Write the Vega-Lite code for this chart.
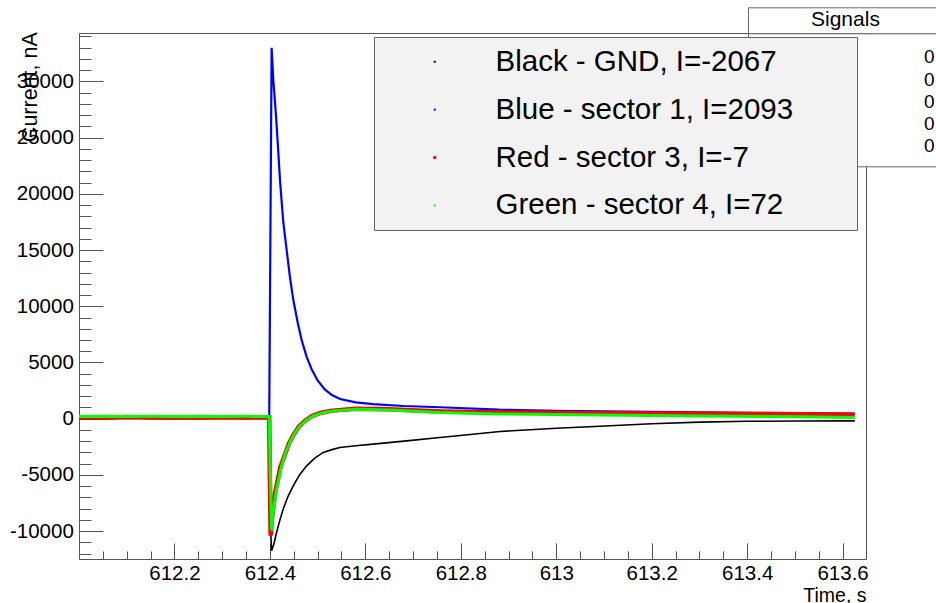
{
  "$schema": "https://vega.github.io/schema/vega-lite/v6.json",
  "width": 787,
  "height": 526,
  "autosize": {"type": "none"},
  "padding": {"left": 79, "top": 33, "right": 70, "bottom": 44},
  "background": "#ffffff",
  "config": {"font": "Liberation Sans", "view": {"stroke": "#555555", "strokeWidth": 1}},
  "title": {"text": "Signals", "fontSize": 25, "fontWeight": "normal", "anchor": "middle", "baseline": "alphabetic", "offset": 31, "color": "#000000"},
  "datasets": {
    "signals": [
      {"trace": "Black - GND, I=-2067", "t": 612.000, "v": 30},
      {"trace": "Black - GND, I=-2067", "t": 612.050, "v": -20},
      {"trace": "Black - GND, I=-2067", "t": 612.100, "v": 40},
      {"trace": "Black - GND, I=-2067", "t": 612.150, "v": 0},
      {"trace": "Black - GND, I=-2067", "t": 612.200, "v": 30},
      {"trace": "Black - GND, I=-2067", "t": 612.250, "v": -10},
      {"trace": "Black - GND, I=-2067", "t": 612.300, "v": 40},
      {"trace": "Black - GND, I=-2067", "t": 612.350, "v": 10},
      {"trace": "Black - GND, I=-2067", "t": 612.3986, "v": 30},
      {"trace": "Black - GND, I=-2067", "t": 612.3995, "v": -4000},
      {"trace": "Black - GND, I=-2067", "t": 612.4010, "v": -9500},
      {"trace": "Black - GND, I=-2067", "t": 612.4035, "v": -11740},
      {"trace": "Black - GND, I=-2067", "t": 612.4080, "v": -11200},
      {"trace": "Black - GND, I=-2067", "t": 612.4141, "v": -10100},
      {"trace": "Black - GND, I=-2067", "t": 612.4210, "v": -9000},
      {"trace": "Black - GND, I=-2067", "t": 612.4279, "v": -8040},
      {"trace": "Black - GND, I=-2067", "t": 612.4380, "v": -6900},
      {"trace": "Black - GND, I=-2067", "t": 612.4489, "v": -5970},
      {"trace": "Black - GND, I=-2067", "t": 612.4620, "v": -5000},
      {"trace": "Black - GND, I=-2067", "t": 612.4770, "v": -4190},
      {"trace": "Black - GND, I=-2067", "t": 612.4940, "v": -3500},
      {"trace": "Black - GND, I=-2067", "t": 612.5117, "v": -3000},
      {"trace": "Black - GND, I=-2067", "t": 612.5300, "v": -2750},
      {"trace": "Black - GND, I=-2067", "t": 612.5467, "v": -2560},
      {"trace": "Black - GND, I=-2067", "t": 612.5800, "v": -2400},
      {"trace": "Black - GND, I=-2067", "t": 612.6165, "v": -2265},
      {"trace": "Black - GND, I=-2067", "t": 612.6864, "v": -1970},
      {"trace": "Black - GND, I=-2067", "t": 612.7562, "v": -1670},
      {"trace": "Black - GND, I=-2067", "t": 612.8200, "v": -1400},
      {"trace": "Black - GND, I=-2067", "t": 612.8819, "v": -1137},
      {"trace": "Black - GND, I=-2067", "t": 613.0000, "v": -850},
      {"trace": "Black - GND, I=-2067", "t": 613.0914, "v": -666},
      {"trace": "Black - GND, I=-2067", "t": 613.2000, "v": -450},
      {"trace": "Black - GND, I=-2067", "t": 613.3008, "v": -300},
      {"trace": "Black - GND, I=-2067", "t": 613.4000, "v": -230},
      {"trace": "Black - GND, I=-2067", "t": 613.5103, "v": -200},
      {"trace": "Black - GND, I=-2067", "t": 613.6255, "v": -195},

      {"trace": "Blue - sector 1, I=2093", "t": 612.000, "v": 180},
      {"trace": "Blue - sector 1, I=2093", "t": 612.100, "v": 170},
      {"trace": "Blue - sector 1, I=2093", "t": 612.200, "v": 190},
      {"trace": "Blue - sector 1, I=2093", "t": 612.300, "v": 170},
      {"trace": "Blue - sector 1, I=2093", "t": 612.3986, "v": 180},
      {"trace": "Blue - sector 1, I=2093", "t": 612.4036, "v": 33000},
      {"trace": "Blue - sector 1, I=2093", "t": 612.4070, "v": 30200},
      {"trace": "Blue - sector 1, I=2093", "t": 612.4127, "v": 27000},
      {"trace": "Blue - sector 1, I=2093", "t": 612.4175, "v": 23800},
      {"trace": "Blue - sector 1, I=2093", "t": 612.4210, "v": 21300},
      {"trace": "Blue - sector 1, I=2093", "t": 612.4245, "v": 19400},
      {"trace": "Blue - sector 1, I=2093", "t": 612.4280, "v": 17500},
      {"trace": "Blue - sector 1, I=2093", "t": 612.4351, "v": 15000},
      {"trace": "Blue - sector 1, I=2093", "t": 612.4420, "v": 12600},
      {"trace": "Blue - sector 1, I=2093", "t": 612.4489, "v": 10600},
      {"trace": "Blue - sector 1, I=2093", "t": 612.4580, "v": 8600},
      {"trace": "Blue - sector 1, I=2093", "t": 612.4665, "v": 7000},
      {"trace": "Blue - sector 1, I=2093", "t": 612.4770, "v": 5500},
      {"trace": "Blue - sector 1, I=2093", "t": 612.4875, "v": 4400},
      {"trace": "Blue - sector 1, I=2093", "t": 612.5000, "v": 3400},
      {"trace": "Blue - sector 1, I=2093", "t": 612.5150, "v": 2600},
      {"trace": "Blue - sector 1, I=2093", "t": 612.5300, "v": 2100},
      {"trace": "Blue - sector 1, I=2093", "t": 612.5470, "v": 1750},
      {"trace": "Blue - sector 1, I=2093", "t": 612.5800, "v": 1450},
      {"trace": "Blue - sector 1, I=2093", "t": 612.6160, "v": 1290},
      {"trace": "Blue - sector 1, I=2093", "t": 612.6800, "v": 1130},
      {"trace": "Blue - sector 1, I=2093", "t": 612.7560, "v": 1020},
      {"trace": "Blue - sector 1, I=2093", "t": 612.8800, "v": 800},
      {"trace": "Blue - sector 1, I=2093", "t": 613.0000, "v": 700},
      {"trace": "Blue - sector 1, I=2093", "t": 613.2000, "v": 600},
      {"trace": "Blue - sector 1, I=2093", "t": 613.4000, "v": 520},
      {"trace": "Blue - sector 1, I=2093", "t": 613.6255, "v": 450},

      {"trace": "Red - sector 3, I=-7", "t": 612.000, "v": 120},
      {"trace": "Red - sector 3, I=-7", "t": 612.050, "v": 80},
      {"trace": "Red - sector 3, I=-7", "t": 612.100, "v": 150},
      {"trace": "Red - sector 3, I=-7", "t": 612.150, "v": 100},
      {"trace": "Red - sector 3, I=-7", "t": 612.200, "v": 130},
      {"trace": "Red - sector 3, I=-7", "t": 612.250, "v": 90},
      {"trace": "Red - sector 3, I=-7", "t": 612.300, "v": 140},
      {"trace": "Red - sector 3, I=-7", "t": 612.350, "v": 110},
      {"trace": "Red - sector 3, I=-7", "t": 612.3986, "v": 120},
      {"trace": "Red - sector 3, I=-7", "t": 612.3995, "v": -4000},
      {"trace": "Red - sector 3, I=-7", "t": 612.4016, "v": -10400},
      {"trace": "Red - sector 3, I=-7", "t": 612.4045, "v": -8800},
      {"trace": "Red - sector 3, I=-7", "t": 612.4110, "v": -6600},
      {"trace": "Red - sector 3, I=-7", "t": 612.4220, "v": -4300},
      {"trace": "Red - sector 3, I=-7", "t": 612.4330, "v": -3000},
      {"trace": "Red - sector 3, I=-7", "t": 612.4400, "v": -2200},
      {"trace": "Red - sector 3, I=-7", "t": 612.4500, "v": -1400},
      {"trace": "Red - sector 3, I=-7", "t": 612.4610, "v": -700},
      {"trace": "Red - sector 3, I=-7", "t": 612.4740, "v": -180},
      {"trace": "Red - sector 3, I=-7", "t": 612.4890, "v": 250},
      {"trace": "Red - sector 3, I=-7", "t": 612.5080, "v": 530},
      {"trace": "Red - sector 3, I=-7", "t": 612.5310, "v": 720},
      {"trace": "Red - sector 3, I=-7", "t": 612.5800, "v": 880},
      {"trace": "Red - sector 3, I=-7", "t": 612.6500, "v": 830},
      {"trace": "Red - sector 3, I=-7", "t": 612.7560, "v": 650},
      {"trace": "Red - sector 3, I=-7", "t": 612.8820, "v": 550},
      {"trace": "Red - sector 3, I=-7", "t": 613.0900, "v": 480},
      {"trace": "Red - sector 3, I=-7", "t": 613.3000, "v": 430},
      {"trace": "Red - sector 3, I=-7", "t": 613.5100, "v": 400},
      {"trace": "Red - sector 3, I=-7", "t": 613.6255, "v": 350},

      {"trace": "Green - sector 4, I=72", "t": 612.000, "v": 200},
      {"trace": "Green - sector 4, I=72", "t": 612.050, "v": 220},
      {"trace": "Green - sector 4, I=72", "t": 612.100, "v": 190},
      {"trace": "Green - sector 4, I=72", "t": 612.150, "v": 210},
      {"trace": "Green - sector 4, I=72", "t": 612.200, "v": 200},
      {"trace": "Green - sector 4, I=72", "t": 612.250, "v": 220},
      {"trace": "Green - sector 4, I=72", "t": 612.300, "v": 190},
      {"trace": "Green - sector 4, I=72", "t": 612.350, "v": 210},
      {"trace": "Green - sector 4, I=72", "t": 612.3986, "v": 200},
      {"trace": "Green - sector 4, I=72", "t": 612.4000, "v": -3000},
      {"trace": "Green - sector 4, I=72", "t": 612.4036, "v": -9960},
      {"trace": "Green - sector 4, I=72", "t": 612.4070, "v": -8330},
      {"trace": "Green - sector 4, I=72", "t": 612.4141, "v": -6260},
      {"trace": "Green - sector 4, I=72", "t": 612.4246, "v": -4190},
      {"trace": "Green - sector 4, I=72", "t": 612.4330, "v": -3000},
      {"trace": "Green - sector 4, I=72", "t": 612.4420, "v": -2110},
      {"trace": "Green - sector 4, I=72", "t": 612.4520, "v": -1300},
      {"trace": "Green - sector 4, I=72", "t": 612.4630, "v": -640},
      {"trace": "Green - sector 4, I=72", "t": 612.4760, "v": -150},
      {"trace": "Green - sector 4, I=72", "t": 612.4908, "v": 250},
      {"trace": "Green - sector 4, I=72", "t": 612.5100, "v": 520},
      {"trace": "Green - sector 4, I=72", "t": 612.5327, "v": 690},
      {"trace": "Green - sector 4, I=72", "t": 612.5817, "v": 840},
      {"trace": "Green - sector 4, I=72", "t": 612.6514, "v": 780},
      {"trace": "Green - sector 4, I=72", "t": 612.7562, "v": 560},
      {"trace": "Green - sector 4, I=72", "t": 612.8819, "v": 420},
      {"trace": "Green - sector 4, I=72", "t": 613.0900, "v": 330},
      {"trace": "Green - sector 4, I=72", "t": 613.3000, "v": 250},
      {"trace": "Green - sector 4, I=72", "t": 613.5103, "v": 180},
      {"trace": "Green - sector 4, I=72", "t": 613.6255, "v": 110}
    ],
    "header": [{"box": "Signals"}],
    "stats": [
      {"stat": "Entries", "value": 0},
      {"stat": "Mean x", "value": 0},
      {"stat": "Mean y", "value": 0},
      {"stat": "Std Dev x", "value": 0},
      {"stat": "Std Dev y", "value": 0}
    ]
  },
  "layer": [
    {
      "data": {"name": "signals"},
      "encoding": {
        "x": {
          "field": "t", "type": "quantitative",
          "scale": {"domain": [612.0, 613.649], "nice": false, "zero": false},
          "axis": {
            "values": [612.05, 612.1, 612.15, 612.2, 612.25, 612.3, 612.35, 612.4, 612.45, 612.5, 612.55, 612.6, 612.65, 612.7, 612.75, 612.8, 612.85, 612.9, 612.95, 613, 613.05, 613.1, 613.15, 613.2, 613.25, 613.3, 613.35, 613.4, 613.45, 613.5, 613.55, 613.6],
            "labelExpr": "abs(datum.value*5 - round(datum.value*5)) < 0.001 ? toString(round(datum.value*10)/10) : ''",
            "tickSize": {"condition": {"test": "abs(datum.value*5 - round(datum.value*5)) < 0.001", "value": -16}, "value": -8},
            "tickColor": "#555555", "tickWidth": 1,
            "domain": false, "grid": false,
            "labelFontSize": 20.5, "labelColor": "#000000", "labelPadding": 20.5, "labelFlush": false, "labelOverlap": false,
            "title": "Time, s", "titleX": 787, "titleY": 42, "titleAlign": "right", "titleAnchor": "end", "titleBaseline": "alphabetic",
            "titleFontWeight": "normal", "titleFontSize": 19.5, "titleColor": "#000000"
          }
        },
        "y": {
          "field": "v", "type": "quantitative",
          "scale": {"domain": [-12480, 34310], "nice": false, "zero": false},
          "axis": {
            "values": [-12000, -11000, -10000, -9000, -8000, -7000, -6000, -5000, -4000, -3000, -2000, -1000, 0, 1000, 2000, 3000, 4000, 5000, 6000, 7000, 8000, 9000, 10000, 11000, 12000, 13000, 14000, 15000, 16000, 17000, 18000, 19000, 20000, 21000, 22000, 23000, 24000, 25000, 26000, 27000, 28000, 29000, 30000, 31000, 32000, 33000, 34000],
            "labelExpr": "datum.value % 5000 === 0 ? toString(datum.value) : ''",
            "tickSize": {"condition": {"test": "datum.value % 5000 === 0", "value": -24}, "value": -12},
            "tickColor": "#555555", "tickWidth": 1,
            "domain": false, "grid": false,
            "labelFontSize": 20.5, "labelColor": "#000000", "labelPadding": 29.7, "labelFlush": false, "labelOverlap": false,
            "title": "Current, nA", "titleX": -42.3, "titleY": -1.3, "titleAngle": -90, "titleAlign": "right", "titleAnchor": "end", "titleBaseline": "alphabetic",
            "titleFontWeight": "normal", "titleFontSize": 21.5, "titleColor": "#000000"
          }
        },
        "color": {
          "field": "trace", "type": "nominal",
          "scale": {
            "domain": ["Black - GND, I=-2067", "Blue - sector 1, I=2093", "Red - sector 3, I=-7", "Green - sector 4, I=72"],
            "range": ["#000000", "#0000ff", "#ff0000", "#00ff00"]
          },
          "legend": {
            "orient": "none", "legendX": 295, "legendY": 4,
            "title": ".", "titleOrient": "right", "titleFontSize": 10, "titleOpacity": 0, "titlePadding": 51,
            "padding": 10,
            "fillColor": "#f2f2f2", "strokeColor": "#666666",
            "labelFontSize": 29.5, "labelColor": "#000000", "labelLimit": 0,
            "labelOffset": 46, "symbolOffset": 36, "rowPadding": 16.9,
            "symbolType": "square", "symbolSize": 4, "symbolStrokeWidth": 0,
            "zindex": 2,
            "encode": {
              "symbols": {
                "update": {
                  "fill": {"scale": "color", "field": "value"},
                  "stroke": {"value": "transparent"},
                  "shape": {"value": "square"},
                  "opacity": {"value": 1},
                  "size": {"signal": "datum.value === 'Red - sector 3, I=-7' ? 9 : 4"}
                }
              }
            }
          }
        }
      },
      "layer": [
        {"transform": [{"filter": "datum.trace === 'Black - GND, I=-2067'"}], "mark": {"type": "line", "strokeWidth": 1.6}},
        {"transform": [{"filter": "datum.trace === 'Blue - sector 1, I=2093'"}], "mark": {"type": "line", "strokeWidth": 2.2}},
        {"transform": [{"filter": "datum.trace === 'Red - sector 3, I=-7'"}], "mark": {"type": "line", "strokeWidth": 4.5}},
        {"transform": [{"filter": "datum.trace === 'Green - sector 4, I=72'"}], "mark": {"type": "line", "strokeWidth": 3}}
      ]
    },
    {
      "data": {"name": "header"},
      "mark": {"type": "point", "opacity": 0},
      "encoding": {
        "size": {
          "field": "box", "type": "ordinal",
          "scale": {"range": [1, 1]},
          "legend": {
            "orient": "none", "legendX": 669, "legendY": -25.7,
            "title": ".", "titleOrient": "right", "titleFontSize": 10, "titleOpacity": 0, "titlePadding": 58,
            "padding": 2.5,
            "fillColor": "#ffffff", "strokeColor": "#666666",
            "labelFontSize": 21, "labelColor": "#000000", "labelLimit": 0, "labelOffset": 39.5,
            "symbolOpacity": 0, "symbolStrokeWidth": 0,
            "zindex": 1
          }
        }
      }
    },
    {
      "data": {"name": "stats"},
      "mark": {"type": "point", "opacity": 0},
      "encoding": {
        "shape": {
          "field": "stat", "type": "nominal",
          "scale": {"domain": ["Entries", "Mean x", "Mean y", "Std Dev x", "Std Dev y"]},
          "legend": {
            "orient": "none", "legendX": 669, "legendY": 0.3,
            "title": ".", "titleFontSize": 4, "titleOpacity": 0, "titlePadding": 0.5,
            "padding": 10,
            "fillColor": "#ffffff", "strokeColor": "#666666",
            "labelFontSize": 19, "labelColor": "#000000", "labelLimit": 0, "labelOffset": 147,
            "rowPadding": 2.25,
            "symbolSize": 1, "symbolOpacity": 0, "symbolStrokeWidth": 0,
            "labelExpr": "'0'",
            "zindex": 1
          }
        }
      }
    }
  ]
}
